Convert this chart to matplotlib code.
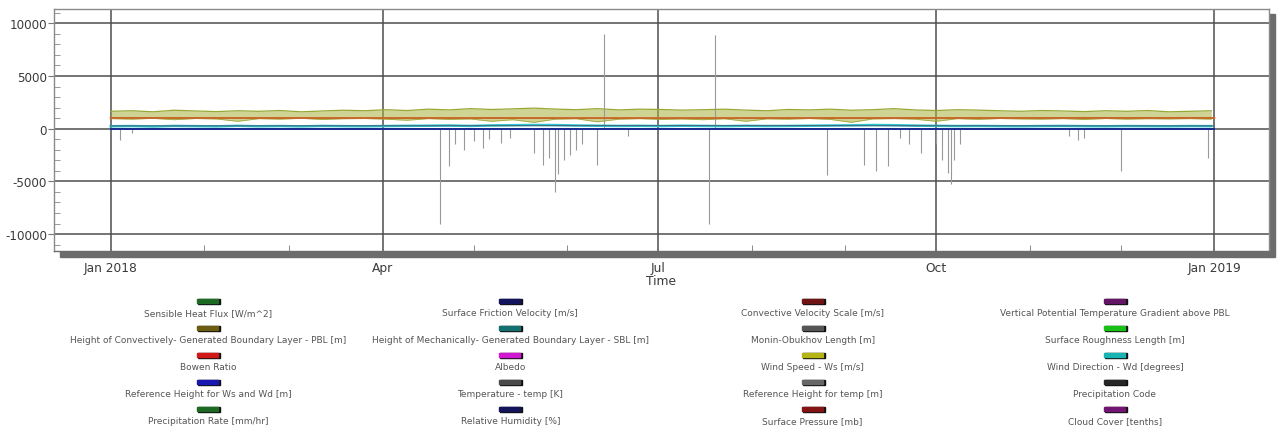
import matplotlib
matplotlib.use("Agg")
import matplotlib.pyplot as plt
import matplotlib.dates as mdates
from matplotlib.patches import Rectangle
from matplotlib.ticker import MultipleLocator, FuncFormatter
import pandas as pd

plt.rcParams["axes.unicode_minus"] = False

# weekly samples (2018)
weeks = pd.date_range("2018-01-01", periods=53, freq="7D")

pbl_top = [1650, 1700, 1600, 1750, 1680, 1620, 1700, 1650, 1720, 1600, 1680, 1750, 1700,
           1800, 1720, 1850, 1780, 1900, 1820, 1880, 1950, 1860, 1800, 1900, 1780, 1850,
           1820, 1760, 1800, 1850, 1760, 1700, 1820, 1780, 1850, 1750, 1800, 1900, 1780,
           1720, 1800, 1760, 1700, 1650, 1720, 1680, 1620, 1700, 1650, 1720, 1600, 1650, 1700]
pbl_bottom = [950, 900, 980, 850, 960, 920, 700, 950, 900, 980, 870, 940, 960, 900, 800,
              950, 880, 920, 700, 850, 600, 900, 940, 650, 900, 950, 880, 920, 850, 940,
              700, 930, 900, 960, 880, 600, 920, 950, 900, 700, 950, 880, 960, 920, 900,
              950, 870, 960, 900, 940, 920, 950, 900]
wind_dir = [230, 250, 210, 260, 240, 220, 270, 230, 250, 220, 260, 240, 230, 250, 270, 280,
            300, 260, 310, 330, 350, 340, 300, 280, 260, 270, 250, 280, 260, 240, 270, 250,
            260, 280, 300, 320, 350, 330, 290, 270, 250, 260, 240, 230, 250, 260, 240, 230,
            250, 240, 230, 250, 240]

months = pd.date_range("2018-01-01", periods=13, freq="MS")
surface_pressure = [1018, 1015, 1012, 1010, 1012, 1008, 1006, 1008, 1010, 1012, 1015, 1016, 1018]
temperature = [268, 270, 275, 283, 290, 296, 299, 298, 292, 284, 276, 270, 268]
ref_height = [10] * 13

# Monin-Obukhov length: spikes visible on the chart
mo_dates = pd.to_datetime([
    "2018-01-04", "2018-01-08", "2018-04-20", "2018-04-23", "2018-04-25", "2018-04-28",
    "2018-05-01", "2018-05-04", "2018-05-06", "2018-05-10", "2018-05-13", "2018-05-21",
    "2018-05-24", "2018-05-26", "2018-05-28", "2018-05-29", "2018-05-31", "2018-06-02",
    "2018-06-04", "2018-06-06", "2018-06-11", "2018-06-13", "2018-06-21", "2018-07-18",
    "2018-07-20", "2018-08-26", "2018-09-07", "2018-09-11", "2018-09-15", "2018-09-19",
    "2018-09-22", "2018-09-26", "2018-10-01", "2018-10-03", "2018-10-05", "2018-10-06",
    "2018-10-07", "2018-10-09", "2018-11-14", "2018-11-17", "2018-11-19", "2018-12-01",
    "2018-12-30"])
mo_values = [-1100, -400, -9000, -3500, -1500, -2000, -1200, -1800, -1000, -1400, -900,
             -2300, -3400, -2800, -6000, -4300, -3000, -2500, -2000, -1500, -3400, 9000,
             -700, -9000, 8900, -4400, -3400, -4000, -3500, -850, -1500, -2300, -1500,
             -3000, -4200, -5200, -3000, -1500, -700, -1100, -900, -4000, -2800]

legend_cols = [
    [("Sensible Heat Flux [W/m^2]", "#1d6b22"),
     ("Height of Convectively- Generated Boundary Layer - PBL [m]", "#6b5c12"),
     ("Bowen Ratio", "#d01818"),
     ("Reference Height for Ws and Wd [m]", "#1818b0"),
     ("Precipitation Rate [mm/hr]", "#1d6b22")],
    [("Surface Friction Velocity [m/s]", "#14145e"),
     ("Height of Mechanically- Generated Boundary Layer - SBL [m]", "#127070"),
     ("Albedo", "#d018d0"),
     ("Temperature - temp [K]", "#4a4a4a"),
     ("Relative Humidity [%]", "#14145a")],
    [("Convective Velocity Scale [m/s]", "#6e1414"),
     ("Monin-Obukhov Length [m]", "#555555"),
     ("Wind Speed - Ws [m/s]", "#b4b414"),
     ("Reference Height for temp [m]", "#666666"),
     ("Surface Pressure [mb]", "#821414")],
    [("Vertical Potential Temperature Gradient above PBL", "#641464"),
     ("Surface Roughness Length [m]", "#18c018"),
     ("Wind Direction - Wd [degrees]", "#18b4b4"),
     ("Precipitation Code", "#262626"),
     ("Cloud Cover [tenths]", "#721472")],
]

W, H = 1278, 435


def fx(x):
    return x / W


def fy(y):
    return 1 - y / H


fig = plt.figure(figsize=(W / 100, H / 100), dpi=100)

# 3D-ish shadow behind the plot frame
shadow = Rectangle((fx(60), fy(258)), fx(1275) - fx(60), fy(15) - fy(258),
                   transform=fig.transFigure, color="#6c6c6c", zorder=-1)
fig.patches.append(shadow)

ax = fig.add_axes([fx(54), fy(252), fx(1269) - fx(54), fy(10) - fy(252)])
ax.set_facecolor("white")

ax.fill_between(weeks, pbl_bottom, pbl_top, color="#a8b23e", alpha=0.55, lw=0, zorder=3)
ax.plot(weeks, pbl_top, color="#98a832", lw=0.9, zorder=3)
ax.plot(weeks, pbl_bottom, color="#a0a83a", lw=0.6, zorder=3)
ax.plot(months, surface_pressure, color="#c8692a", lw=1.4, zorder=4)
ax.vlines(mo_dates, 0, mo_values, color="#999999", lw=0.8, zorder=3)
ax.plot(weeks, wind_dir, color="#2cc6d0", lw=1.8, zorder=4)
ax.plot(months, temperature, color="#3f6f80", lw=0.8, zorder=4)
ax.plot(months, ref_height, color="#1a2a90", lw=1.4, zorder=5)

ax.set_xlim(pd.Timestamp("2017-12-13 06:00"), pd.Timestamp("2019-01-19 02:00"))
ax.set_ylim(-11600, 11350)

ax.xaxis.set_major_locator(mdates.MonthLocator(bymonth=[1, 4, 7, 10]))
ax.xaxis.set_minor_locator(mdates.MonthLocator())


def date_label(x, pos):
    d = mdates.num2date(x)
    return d.strftime("%b %Y") if d.month == 1 else d.strftime("%b")


ax.xaxis.set_major_formatter(FuncFormatter(date_label))
ax.yaxis.set_major_locator(MultipleLocator(5000))
ax.yaxis.set_minor_locator(MultipleLocator(1000))

ax.tick_params(axis="x", which="major", length=0, pad=7, labelsize=8.8, labelcolor="#3a3a3a")
ax.tick_params(axis="x", which="minor", direction="in", length=4, color="#777777")
ax.tick_params(axis="y", which="major", direction="out", length=4, labelsize=8.6,
               labelcolor="#3a3a3a", color="#777777", pad=1)
ax.tick_params(axis="y", which="minor", direction="in", length=4, color="#888888")

ax.grid(which="major", color="#4e4e4e", lw=1.1)
ax.set_axisbelow(True)
for s in ax.spines.values():
    s.set_color("#8a8a8a")
    s.set_linewidth(1)
ax.spines["bottom"].set_color("#6c6c6c")

ax.set_xlabel("Time", fontsize=8.8, color="#3a3a3a", labelpad=0)

# legend: swatch above the label, 4 columns x 5 rows
for c, col in enumerate(legend_cols):
    cx = 208 + 302.3 * c
    for r, (label, color) in enumerate(col):
        by = 301 + 27 * r
        fig.patches.append(Rectangle((fx(cx - 10), fy(by + 4)), fx(22), fx(0) + 5 / H,
                                     transform=fig.transFigure, color="#111111"))
        fig.patches.append(Rectangle((fx(cx - 11), fy(by + 3)), fx(21), fx(0) + 4 / H,
                                     transform=fig.transFigure, color=color))
        fig.text(fx(cx), fy(314 + 27 * r), label, ha="center", va="center",
                 fontsize=6.5, color="#555555")

fig.savefig("out.png", dpi=100)
